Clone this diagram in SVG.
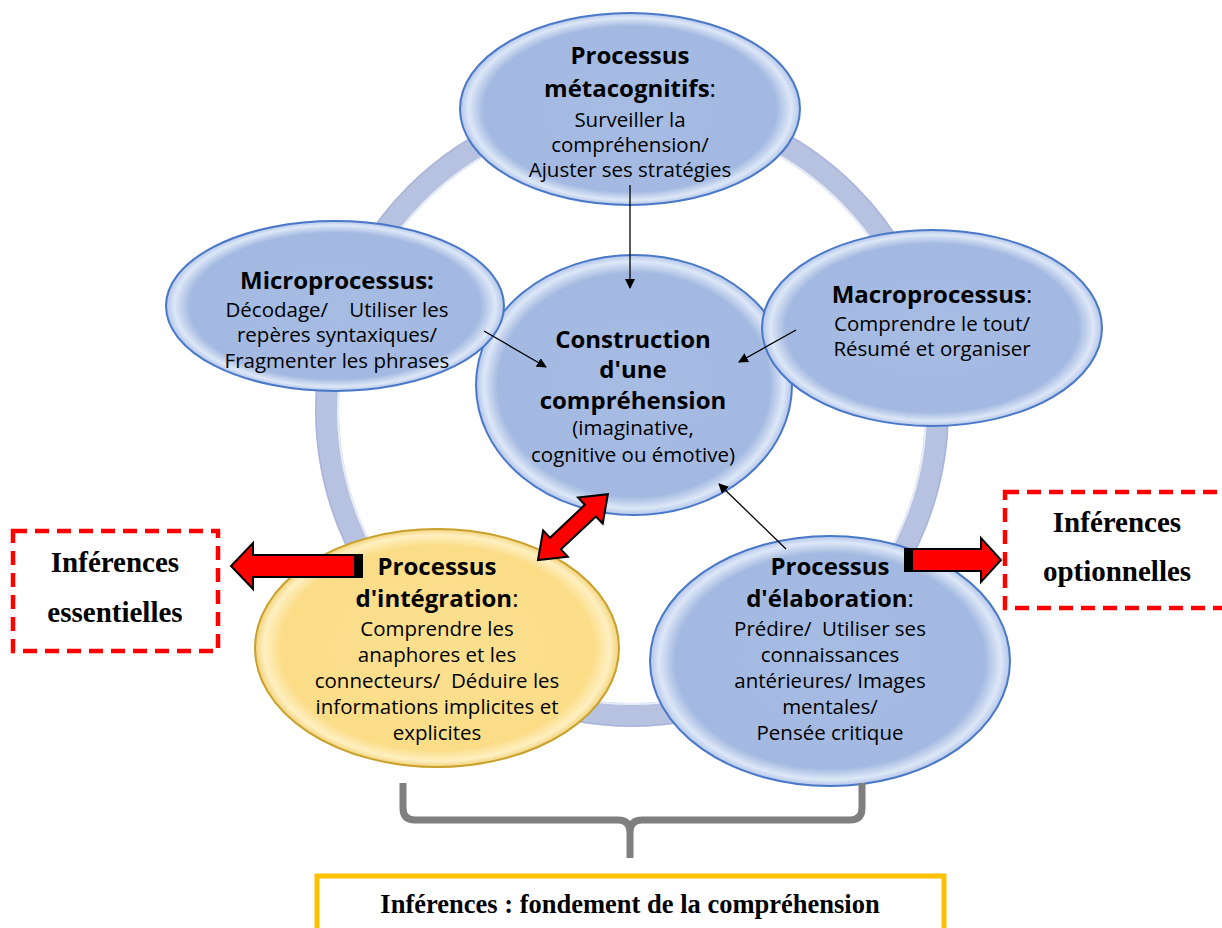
<svg xmlns="http://www.w3.org/2000/svg" width="1222" height="928" viewBox="0 0 1222 928">
<style>
.t{font-family:"Open Sans","DejaVu Sans",sans-serif;font-size:20.5px;fill:#000;text-anchor:middle;white-space:pre}
.b{font-weight:bold;font-size:24px}
.r{font-weight:normal;font-size:24px}
.s{font-family:"Liberation Serif","Times New Roman",serif;font-weight:bold;font-size:29px;fill:#000;text-anchor:middle}
.ell{fill:url(#gBlue);stroke:#4A78C8;stroke-width:2}
.thin{stroke:#000;stroke-width:1.3;fill:none;marker-end:url(#ah)}
.red{fill:#FF0000;stroke:#000;stroke-width:2;stroke-linejoin:miter}
.dash{fill:#fff;stroke:#FF0000;stroke-width:4.5;stroke-dasharray:14 8}
</style>
<defs>
<radialGradient id="gBlue" cx="50%" cy="50%" r="50%">
<stop offset="0" stop-color="#A6BCE3"/>
<stop offset="0.86" stop-color="#A3B9E1"/>
<stop offset="0.95" stop-color="#DDE7F7"/>
<stop offset="1" stop-color="#B2C5EA"/>
</radialGradient>
<radialGradient id="gYel" cx="50%" cy="50%" r="50%">
<stop offset="0" stop-color="#FCE08F"/>
<stop offset="0.86" stop-color="#FBDD88"/>
<stop offset="0.95" stop-color="#FFF0C2"/>
<stop offset="1" stop-color="#F2D27A"/>
</radialGradient>
<marker id="ah" viewBox="0 0 10 10" refX="9" refY="5" markerWidth="10" markerHeight="10" markerUnits="userSpaceOnUse" orient="auto">
<path d="M0,0 L10,5 L0,10 z" fill="#000"/>
</marker>
</defs>
<rect width="1222" height="928" fill="#fff"/>

<g id="ring">
<circle cx="632" cy="410" r="305" fill="none" stroke="#B7C1E0" stroke-width="24"/>
<circle cx="632" cy="410" r="294" fill="none" stroke="#E6ECF8" stroke-width="2"/>
<circle cx="632" cy="410" r="316" fill="none" stroke="#9EAAD3" stroke-width="1.2" opacity="0.6"/>
</g>

<g id="construction">
<ellipse class="ell" cx="634" cy="385" rx="158" ry="130"/>
<text class="t"><tspan class="b" x="633" y="348">Construction</tspan><tspan class="b" x="633" y="378">d'une</tspan><tspan class="b" x="633" y="409">compréhension</tspan><tspan x="633" y="435">(imaginative,</tspan><tspan x="633" y="462">cognitive ou émotive)</tspan></text>
</g>

<g id="metacognitifs">
<ellipse class="ell" cx="630" cy="109" rx="170" ry="96"/>
<text class="t"><tspan class="b" x="630" y="64">Processus</tspan><tspan x="630" y="97"><tspan class="b">métacognitifs</tspan><tspan class="r">:</tspan></tspan><tspan x="630" y="127">Surveiller la</tspan><tspan x="630" y="152">compréhension/</tspan><tspan x="630" y="177">Ajuster ses stratégies</tspan></text>
</g>

<g id="microprocessus">
<ellipse class="ell" cx="335" cy="306" rx="169" ry="85"/>
<text class="t"><tspan class="b" x="337" y="289">Microprocessus:</tspan><tspan x="337" y="317">Décodage/    Utiliser les</tspan><tspan x="337" y="342">repères syntaxiques/</tspan><tspan x="337" y="368">Fragmenter les phrases</tspan></text>
</g>

<g id="macroprocessus">
<ellipse class="ell" cx="932" cy="328" rx="170" ry="98"/>
<text class="t"><tspan x="932" y="303"><tspan class="b">Macroprocessus</tspan><tspan class="r">:</tspan></tspan><tspan x="932" y="331">Comprendre le tout/</tspan><tspan x="932" y="356">Résumé et organiser</tspan></text>
</g>

<g id="integration">
<ellipse cx="437" cy="648" rx="182" ry="119" fill="url(#gYel)" stroke="#C8A02A" stroke-width="2"/>
<text class="t"><tspan class="b" x="437" y="575">Processus</tspan><tspan x="437" y="607"><tspan class="b">d'intégration</tspan><tspan class="r">:</tspan></tspan><tspan x="437" y="636">Comprendre les</tspan><tspan x="437" y="662">anaphores et les</tspan><tspan x="437" y="688">connecteurs/  Déduire les</tspan><tspan x="437" y="714">informations implicites et</tspan><tspan x="437" y="740">explicites</tspan></text>
</g>

<g id="elaboration">
<ellipse class="ell" cx="830" cy="661" rx="180" ry="125"/>
<text class="t"><tspan class="b" x="830" y="575">Processus</tspan><tspan x="830" y="607"><tspan class="b">d'élaboration</tspan><tspan class="r">:</tspan></tspan><tspan x="830" y="636">Prédire/  Utiliser ses</tspan><tspan x="830" y="662">connaissances</tspan><tspan x="830" y="688">antérieures/ Images</tspan><tspan x="830" y="714">mentales/</tspan><tspan x="830" y="740">Pensée critique</tspan></text>
</g>

<g id="essentielles">
<rect class="dash" x="13" y="531" width="205" height="120"/>
<text class="s" x="115" y="572">Inférences</text>
<text class="s" x="115" y="622">essentielles</text>
</g>

<g id="optionnelles">
<rect class="dash" x="1005" y="492" width="240" height="116"/>
<text class="s" x="1117" y="532">Inférences</text>
<text class="s" x="1117" y="581">optionnelles</text>
</g>

<g id="fondement">
<rect x="317" y="876" width="627" height="70" fill="#fff" stroke="#FFC000" stroke-width="5"/>
<text class="s" x="630" y="913" style="font-size:26.5px">Inférences : fondement de la compréhension</text>
</g>

<g id="connectors">
<line class="thin" x1="630" y1="185" x2="630" y2="288"/>
<line class="thin" x1="484" y1="331" x2="546" y2="367"/>
<line class="thin" x1="796" y1="330" x2="739" y2="362"/>
<line class="thin" x1="786" y1="549" x2="719" y2="484"/>
<polygon class="red" points="362,555 253,555 253,543 231,566 253,589 253,577 362,577"/>
<rect x="354" y="555" width="9" height="22" fill="#000"/>
<polygon class="red" points="905,549 981,549 981,538 1001,560 981,582 981,571 905,571"/>
<rect x="904" y="549" width="9" height="22" fill="#000"/>
<polygon class="red" transform="translate(538,560) rotate(-43.3)" points="0,0 24,-18 24,-8 72,-8 72,-18 96,0 72,18 72,8 24,8 24,18"/>
<path d="M403,783 V808 Q403,820 415,820 H618 Q630,820 630,832 V858 M630,832 Q630,820 642,820 H850 Q862,820 862,808 V783" fill="none" stroke="#7F7F7F" stroke-width="7" stroke-linejoin="round"/>
</g>
</svg>
